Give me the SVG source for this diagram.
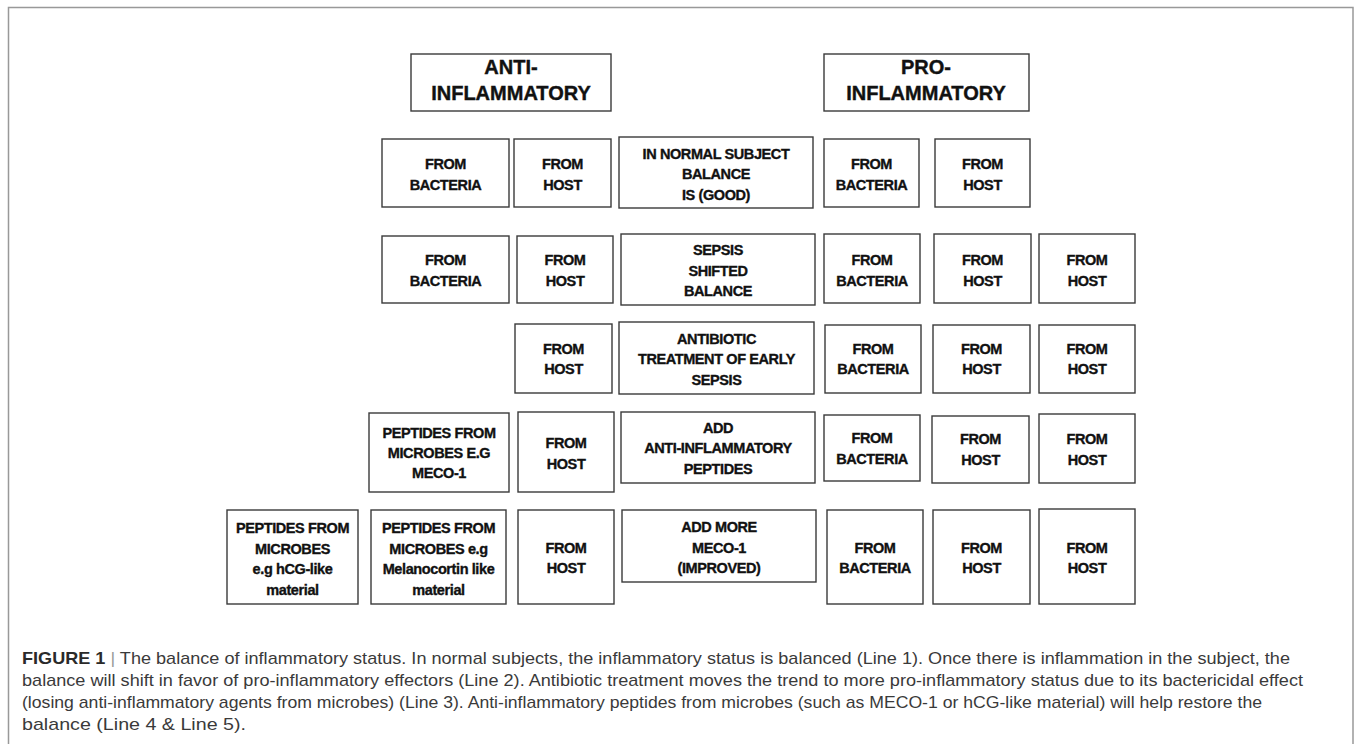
<svg xmlns="http://www.w3.org/2000/svg" width="1356" height="744" viewBox="0 0 1356 744">
<style>
.box{fill:#fff;stroke:#3a3a3a;stroke-width:1.4}
.t{font-family:"Liberation Sans",Arial,sans-serif;font-weight:bold;font-size:14.5px;fill:#111;stroke:#111;stroke-width:0.35;text-anchor:middle;letter-spacing:-0.4px}
.h{font-family:"Liberation Sans",Arial,sans-serif;font-weight:bold;font-size:20px;fill:#111;stroke:#111;stroke-width:0.4;text-anchor:middle}
.cap{font-family:"Liberation Sans",Arial,sans-serif;font-size:17px;fill:#3a3a3a}
</style>
<rect width="1356" height="744" fill="#fff"/>
<rect x="8.5" y="7.5" width="1344.5" height="780" fill="none" stroke="#999" stroke-width="1.5"/>
<g id="connectors"></g>

<g id="hdr-anti"><rect class="box" x="411" y="54" width="200" height="57"/><text class="h" x="511" y="74">ANTI-</text><text class="h" x="511" y="100">INFLAMMATORY</text></g>
<g id="hdr-pro"><rect class="box" x="824" y="54" width="205" height="57"/><text class="h" x="926" y="74">PRO-</text><text class="h" x="926" y="100">INFLAMMATORY</text></g>

<g id="r1-abac"><rect class="box" x="382" y="139" width="127" height="68"/><text class="t" x="445.5" y="169">FROM</text><text class="t" x="445.5" y="189.5">BACTERIA</text></g>
<g id="r1-ahost"><rect class="box" x="514" y="139" width="97" height="68"/><text class="t" x="562.5" y="169">FROM</text><text class="t" x="562.5" y="189.5">HOST</text></g>
<g id="r1-center"><rect class="box" x="619" y="137" width="194" height="71"/><text class="t" x="716" y="158.5">IN NORMAL SUBJECT</text><text class="t" x="716" y="179">BALANCE</text><text class="t" x="716" y="199.5">IS (GOOD)</text></g>
<g id="r1-pbac"><rect class="box" x="824" y="139" width="95" height="68"/><text class="t" x="871.5" y="169">FROM</text><text class="t" x="871.5" y="189.5">BACTERIA</text></g>
<g id="r1-phost"><rect class="box" x="935" y="139" width="95" height="68"/><text class="t" x="982.5" y="169">FROM</text><text class="t" x="982.5" y="189.5">HOST</text></g>

<g id="r2-abac"><rect class="box" x="382" y="236" width="127" height="67"/><text class="t" x="445.5" y="265">FROM</text><text class="t" x="445.5" y="285.5">BACTERIA</text></g>
<g id="r2-ahost"><rect class="box" x="517" y="236" width="96" height="67"/><text class="t" x="565" y="265">FROM</text><text class="t" x="565" y="285.5">HOST</text></g>
<g id="r2-center"><rect class="box" x="621" y="234" width="194" height="71"/><text class="t" x="718" y="255">SEPSIS</text><text class="t" x="718" y="275.5">SHIFTED</text><text class="t" x="718" y="296">BALANCE</text></g>
<g id="r2-pbac"><rect class="box" x="824" y="234" width="96" height="69"/><text class="t" x="872" y="265">FROM</text><text class="t" x="872" y="285.5">BACTERIA</text></g>
<g id="r2-phost"><rect class="box" x="934" y="234" width="97" height="69"/><text class="t" x="982.5" y="265">FROM</text><text class="t" x="982.5" y="285.5">HOST</text></g>
<g id="r2-phost2"><rect class="box" x="1039" y="234" width="96" height="69"/><text class="t" x="1087" y="265">FROM</text><text class="t" x="1087" y="285.5">HOST</text></g>

<g id="r3-ahost"><rect class="box" x="515" y="324" width="97" height="69"/><text class="t" x="563.5" y="353.5">FROM</text><text class="t" x="563.5" y="374">HOST</text></g>
<g id="r3-center"><rect class="box" x="619" y="322" width="195" height="72"/><text class="t" x="716.5" y="343.5">ANTIBIOTIC</text><text class="t" x="716.5" y="364">TREATMENT OF EARLY</text><text class="t" x="716.5" y="384.5">SEPSIS</text></g>
<g id="r3-pbac"><rect class="box" x="825" y="325" width="96" height="68"/><text class="t" x="873" y="353.5">FROM</text><text class="t" x="873" y="374">BACTERIA</text></g>
<g id="r3-phost"><rect class="box" x="933" y="325" width="97" height="68"/><text class="t" x="981.5" y="353.5">FROM</text><text class="t" x="981.5" y="374">HOST</text></g>
<g id="r3-phost2"><rect class="box" x="1039" y="325" width="96" height="68"/><text class="t" x="1087" y="353.5">FROM</text><text class="t" x="1087" y="374">HOST</text></g>

<g id="r4-apep"><rect class="box" x="369" y="413" width="140" height="79"/><text class="t" x="439" y="437.5">PEPTIDES FROM</text><text class="t" x="439" y="458">MICROBES E.G</text><text class="t" x="439" y="478">MECO-1</text></g>
<g id="r4-ahost"><rect class="box" x="518" y="412" width="96" height="80"/><text class="t" x="566" y="448">FROM</text><text class="t" x="566" y="468.5">HOST</text></g>
<g id="r4-center"><rect class="box" x="621" y="412" width="194" height="71"/><text class="t" x="718" y="432.5">ADD</text><text class="t" x="718" y="453">ANTI-INFLAMMATORY</text><text class="t" x="718" y="473.5">PEPTIDES</text></g>
<g id="r4-pbac"><rect class="box" x="824" y="415" width="96" height="66"/><text class="t" x="872" y="443">FROM</text><text class="t" x="872" y="463.5">BACTERIA</text></g>
<g id="r4-phost"><rect class="box" x="932" y="416" width="97" height="67"/><text class="t" x="980.5" y="444">FROM</text><text class="t" x="980.5" y="464.5">HOST</text></g>
<g id="r4-phost2"><rect class="box" x="1039" y="414" width="96" height="69"/><text class="t" x="1087" y="444">FROM</text><text class="t" x="1087" y="464.5">HOST</text></g>

<g id="r5-ahcg"><rect class="box" x="227" y="510" width="131" height="94"/><text class="t" x="292.5" y="533">PEPTIDES FROM</text><text class="t" x="292.5" y="553.5">MICROBES</text><text class="t" x="292.5" y="574">e.g hCG-like</text><text class="t" x="292.5" y="594.5">material</text></g>
<g id="r5-amel"><rect class="box" x="371" y="510" width="135" height="94"/><text class="t" x="438.5" y="533">PEPTIDES FROM</text><text class="t" x="438.5" y="553.5">MICROBES e.g</text><text class="t" x="438.5" y="574" letter-spacing="-0.9">Melanocortin like</text><text class="t" x="438.5" y="594.5">material</text></g>
<g id="r5-ahost"><rect class="box" x="518" y="510" width="96" height="94"/><text class="t" x="566" y="552.5">FROM</text><text class="t" x="566" y="573">HOST</text></g>
<g id="r5-center"><rect class="box" x="622" y="510" width="194" height="72"/><text class="t" x="719" y="532">ADD MORE</text><text class="t" x="719" y="552.5">MECO-1</text><text class="t" x="719" y="573">(IMPROVED)</text></g>
<g id="r5-pbac"><rect class="box" x="827" y="510" width="96" height="94"/><text class="t" x="875" y="552.5">FROM</text><text class="t" x="875" y="573">BACTERIA</text></g>
<g id="r5-phost"><rect class="box" x="933" y="510" width="97" height="94"/><text class="t" x="981.5" y="552.5">FROM</text><text class="t" x="981.5" y="573">HOST</text></g>
<g id="r5-phost2"><rect class="box" x="1039" y="509" width="96" height="95"/><text class="t" x="1087" y="552.5">FROM</text><text class="t" x="1087" y="573">HOST</text></g>

<g id="caption">
<text class="cap" x="22" y="664" textLength="1268" lengthAdjust="spacingAndGlyphs"><tspan font-weight="bold" fill="#2a2a2a">FIGURE 1</tspan><tspan fill="#999"> | </tspan>The balance of inflammatory status. In normal subjects, the inflammatory status is balanced (Line 1). Once there is inflammation in the subject, the</text>
<text class="cap" x="22" y="686" textLength="1281" lengthAdjust="spacingAndGlyphs">balance will shift in favor of pro-inflammatory effectors (Line 2). Antibiotic treatment moves the trend to more pro-inflammatory status due to its bactericidal effect</text>
<text class="cap" x="22" y="708" textLength="1240" lengthAdjust="spacingAndGlyphs">(losing anti-inflammatory agents from microbes) (Line 3). Anti-inflammatory peptides from microbes (such as MECO-1 or hCG-like material) will help restore the</text>
<text class="cap" x="22" y="730" textLength="224" lengthAdjust="spacingAndGlyphs">balance (Line 4 &amp; Line 5).</text>
</g>
</svg>
